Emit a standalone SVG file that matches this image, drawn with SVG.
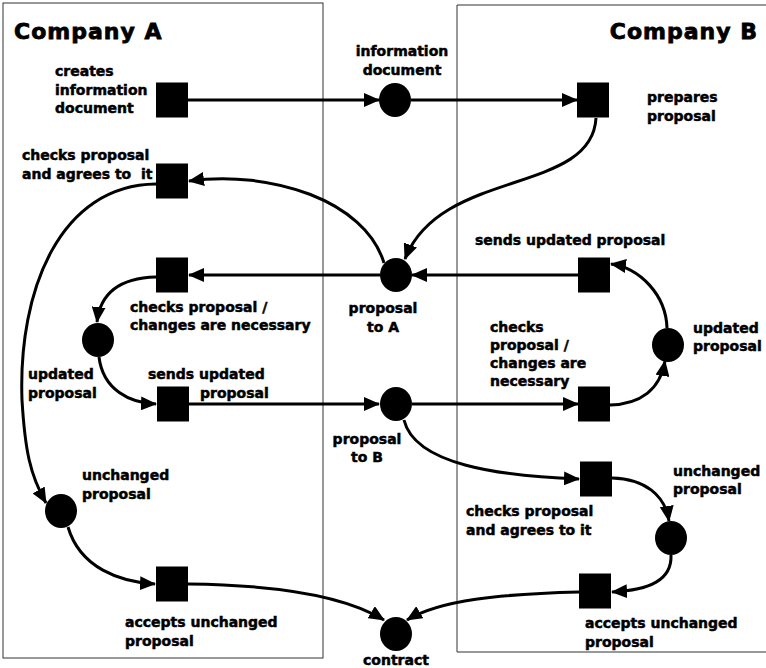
<svg xmlns="http://www.w3.org/2000/svg" width="766" height="668" viewBox="0 0 766 668">
<style>
text{font-family:"DejaVu Sans","Liberation Sans",sans-serif;font-weight:bold;font-size:14px;fill:#000;stroke:#000;stroke-width:0.5px}
.title{font-size:22px;letter-spacing:1px;stroke-width:0.8px}
.c{text-anchor:middle}
.sq{fill:#000}
.pl{fill:#000}
.lane{fill:none;stroke:#333;stroke-width:1}
.edge{fill:none;stroke:#000;stroke-width:3;marker-end:url(#ah)}
</style>
<defs>
<marker id="ah" markerUnits="userSpaceOnUse" markerWidth="16" markerHeight="14" viewBox="0 0 16 14" refX="15" refY="7" orient="auto">
<path d="M0,0 L16,7 L0,14 z" fill="#000"/>
</marker>
</defs>
<g id="lanes">
<rect class="lane" x="3" y="3" width="320" height="655"/>
<polyline class="lane" points="766,5 457,5 457,652 766,652"/>
<text class="title" x="14" y="39">Company A</text>
<text class="title" x="758" y="39" style="text-anchor:end">Company B</text>
</g>
<g id="connectors">
<path class="edge" d="M188,100 L379,100"/>
<path class="edge" d="M411,100 L577,100"/>
<path class="edge" d="M596,118 C592,195 440,168 405,259"/>
<path class="edge" d="M384,263 C365,200 270,170 189,181"/>
<path class="edge" d="M156,184 C60,185 18,290 22,400 C25,450 30,475 46,503"/>
<path class="edge" d="M578,275 L412,275"/>
<path class="edge" d="M380,275 L189,275"/>
<path class="edge" d="M156,277 C118,278 100,295 97,322"/>
<path class="edge" d="M99,357 C103,390 130,403 156,404"/>
<path class="edge" d="M189,404 L379,404"/>
<path class="edge" d="M412,404 L578,404"/>
<path class="edge" d="M610,405 C640,404 660,390 665,361"/>
<path class="edge" d="M667,328 C666,295 640,268 611,264"/>
<path class="edge" d="M404,420 C415,465 500,476 579,479"/>
<path class="edge" d="M612,478 C645,479 665,495 669,521"/>
<path class="edge" d="M671,555 C672,580 650,590 612,592"/>
<path class="edge" d="M579,592 C500,594 440,600 407,620"/>
<path class="edge" d="M68,527 C80,568 120,582 155,584"/>
<path class="edge" d="M188,584 C280,585 345,596 384,620"/>
</g>
<g id="n-creates-info">
<rect class="sq" x="156" y="82.5" width="32" height="35"/>
<text x="55" y="76">creates</text><text x="55" y="95">information</text><text x="55" y="113">document</text>
</g>
<g id="p-info-doc">
<ellipse class="pl" cx="395" cy="100" rx="16" ry="17"/>
<text class="c" x="402" y="56">information</text><text class="c" x="402" y="75">document</text>
</g>
<g id="n-prepares">
<rect class="sq" x="577" y="82.5" width="32" height="35"/>
<text x="647" y="102">prepares</text><text x="647" y="121">proposal</text>
</g>
<g id="n-a-agrees">
<rect class="sq" x="156" y="163.5" width="32" height="35"/>
<text x="22" y="160">checks proposal</text><text x="22" y="179" xml:space="preserve">and agrees to  it</text>
</g>
<g id="p-proposal-a">
<ellipse class="pl" cx="396" cy="275" rx="16" ry="17"/>
<text class="c" x="383" y="313">proposal</text><text class="c" x="383" y="332">to A</text>
</g>
<g id="n-a-changes">
<rect class="sq" x="156" y="257.5" width="32" height="35"/>
<text x="130" y="312">checks proposal /</text><text x="130" y="330">changes are necessary</text>
</g>
<g id="p-a-updated">
<ellipse class="pl" cx="98" cy="340" rx="16" ry="17"/>
<text x="28" y="379">updated</text><text x="28" y="398">proposal</text>
</g>
<g id="n-a-sends">
<rect class="sq" x="157" y="386.5" width="32" height="35"/>
<text x="148" y="379">sends updated</text><text x="200" y="398">proposal</text>
</g>
<g id="p-proposal-b">
<ellipse class="pl" cx="396" cy="404" rx="16" ry="17"/>
<text class="c" x="367" y="444">proposal</text><text class="c" x="367" y="462">to B</text>
</g>
<g id="n-b-sends">
<rect class="sq" x="578" y="257.5" width="32" height="35"/>
<text x="475" y="245">sends updated proposal</text>
</g>
<g id="p-b-updated">
<ellipse class="pl" cx="668" cy="345" rx="16" ry="17"/>
<text x="693" y="333">updated</text><text x="693" y="351">proposal</text>
</g>
<g id="n-b-changes">
<rect class="sq" x="578" y="386.5" width="32" height="35"/>
<text x="490" y="332">checks</text><text x="490" y="350">proposal /</text><text x="490" y="368">changes are</text><text x="490" y="386">necessary</text>
</g>
<g id="p-a-unchanged">
<ellipse class="pl" cx="61" cy="511" rx="16" ry="17"/>
<text x="82" y="480">unchanged</text><text x="82" y="499">proposal</text>
</g>
<g id="n-a-accepts">
<rect class="sq" x="156" y="566.5" width="32" height="35"/>
<text x="125" y="627">accepts unchanged</text><text x="125" y="646">proposal</text>
</g>
<g id="p-contract">
<ellipse class="pl" cx="396" cy="634" rx="16" ry="17"/>
<text class="c" x="396" y="665">contract</text>
</g>
<g id="n-b-agrees">
<rect class="sq" x="580" y="461.5" width="32" height="35"/>
<text x="466" y="516">checks proposal</text><text x="466" y="535">and agrees to it</text>
</g>
<g id="p-b-unchanged">
<ellipse class="pl" cx="671" cy="538" rx="16" ry="17"/>
<text x="673" y="476">unchanged</text><text x="673" y="494">proposal</text>
</g>
<g id="n-b-accepts">
<rect class="sq" x="579" y="573.5" width="32" height="35"/>
<text x="585" y="628">accepts unchanged</text><text x="585" y="647">proposal</text>
</g>
</svg>
